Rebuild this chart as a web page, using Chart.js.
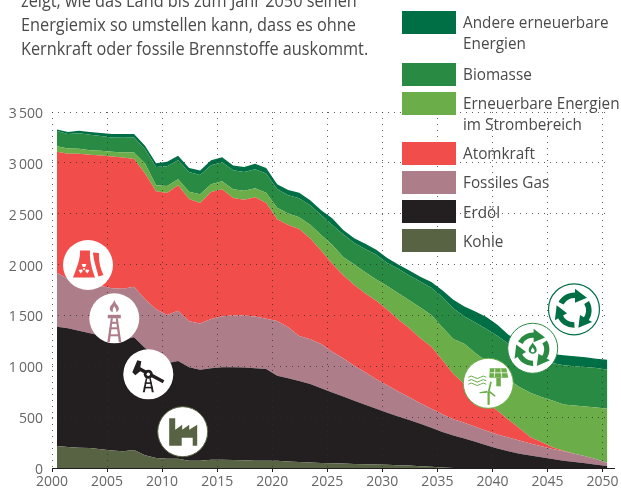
<!DOCTYPE html>
<html lang="de">
<head>
<meta charset="utf-8">
<title>Energiemix bis 2050</title>
<script src="https://cdn.jsdelivr.net/npm/chart.js@4"></script>
<style>
  html, body { margin: 0; padding: 0; background: #fff; }
  #wrap { position: relative; width: 621px; height: 490px; overflow: hidden; font-family: "Open Sans", sans-serif; color: #4a4a4a; }
  #chart { position: absolute; left: 0; top: 0; }
  #icons { position: absolute; left: 0; top: 0; }
  #intro { position: absolute; left: 21px; top: -12px; font-size: 18px; line-height: 24px; white-space: nowrap; transform: scaleX(0.905); transform-origin: left top; }
  .swatch { position: absolute; left: 402px; width: 54px; height: 23px; }
  .label { position: absolute; left: 463px; font-size: 17px; line-height: 21px; white-space: nowrap; transform: scaleX(0.9); transform-origin: left top; }
</style>
</head>
<body>
<div id="wrap">
  <canvas id="chart" width="621" height="490"></canvas>
  <svg id="icons" width="621" height="490" viewBox="0 0 621 490">
    <defs>
      <g id="arrow">
        <path d="M-13 -7 A15 15 0 0 1 3 -14.7" fill="none" stroke-width="5.5"/>
        <path d="M1 -21.5 L13 -12.5 L1 -7.5 Z" stroke="none"/>
      </g>
    </defs>

    <!-- Atomkraft -->
    <g transform="translate(88 265)" fill="#f04d4b">
      <circle r="25" fill="#fff"/>
      <path d="M-8 -14.5 H2 C1.5 -6 3 2 7 12.5 H-15 C-11 2 -7.5 -6 -8 -14.5 Z"/>
      <path d="M5 -12.5 L11 -12 C10.5 -3 12.5 4 15.5 10 L10.5 11.5 C8.5 3 5.5 -4 5 -12.5 Z"/>
      <g fill="#fff" transform="translate(-4 4)">
        <circle r="1.1"/>
        <path d="M-1.2 -2 L-2.4 -5 H2.4 L1.2 -2 Z"/>
        <path d="M-2 0.6 L-5.5 1 L-3.4 4.6 L-1.2 2 Z"/>
        <path d="M2 0.6 L5.5 1 L3.4 4.6 L1.2 2 Z"/>
      </g>
    </g>

    <!-- Fossiles Gas -->
    <g transform="translate(114.3 318.3)" fill="#ad7d8a">
      <circle r="25" fill="#fff"/>
      <path d="M0 -18.5 C1 -14 4.5 -13 4.5 -9.5 C4.5 -7.5 3 -6.5 2 -6 C2.5 -9 1 -10.5 0 -12 C-1 -10.5 -2 -9 -1.5 -6 C-3 -6.5 -4.5 -7.5 -4.5 -9.5 C-4.5 -13 -1 -14 0 -18.5 Z"/>
      <rect x="-6.5" y="-3.5" width="13" height="3.5"/>
      <path d="M-3.5 0 L-7 24 H-4.5 L-1.5 0 Z M3.5 0 L7 24 H4.5 L1.5 0 Z"/>
      <rect x="-4.5" y="9" width="9" height="2"/>
      <rect x="-5" y="16" width="10" height="2"/>
      <rect x="-3" y="3.5" width="6" height="2"/>
    </g>

    <!-- Erdöl -->
    <g transform="translate(148.3 374.3)" fill="#231f20">
      <circle r="25" fill="#fff"/>
      <path d="M-16 -2 L-11 -14 L-7 -13 L-8 -7 L16 6 L14.5 9 L-8 -3 L-13 1 Z"/>
      <circle cy="0" r="4.5"/>
      <circle cy="0" r="1.7" fill="#fff"/>
      <path d="M-2.5 4 L-5.5 18 H-3.5 L-1 4 Z M2.5 4 L5.5 18 H3.5 L1 4 Z"/>
      <rect x="-3.5" y="8" width="7" height="1.6"/>
      <rect x="-4.5" y="12.5" width="9" height="1.6"/>
    </g>

    <!-- Kohle -->
    <g transform="translate(182.7 431.7)" fill="#586343">
      <circle r="25" fill="#fff" stroke="#586343" stroke-width="1"/>
      <path d="M-13.5 -13.5 H-7.5 V-2 L-0.5 -7 V-2 L6.5 -7 V-2 L14.5 -7 V14 H10 V6 H-1 V14 H-13.5 Z"/>
    </g>

    <!-- Erneuerbare Energien im Strombereich -->
    <g transform="translate(488.3 383.3)" fill="#6bad49">
      <circle r="25" fill="#fff" stroke="#6bad49" stroke-width="1"/>
      <path d="M1.5 -15 H18 L20 -5.5 H1 Z"/>
      <path d="M6.5 -14.5 L6 -6 M12.5 -14.5 L13.5 -6 M2 -10.5 H19" stroke="#fff" stroke-width="0.8"/>
      <rect x="8" y="-5.5" width="4.5" height="8.5"/>
      <g fill="none" stroke="#6bad49" stroke-width="1">
        <path d="M-20 -6 q3 -2.5 6 0 t6 0 t6 0"/>
        <path d="M-20 -2.5 q3 -2.5 6 0 t6 0 t6 0"/>
        <path d="M-20 1 q3 -2.5 6 0 t6 0 t6 0"/>
      </g>
      <rect x="-0.8" y="8" width="2.2" height="13.5"/>
      <path d="M-0.4 8 L1.9 -2 L3.4 -1 L1.4 8 Z"/>
      <path d="M-1.1 7.5 L-9 9 L-8.5 10 L-0.6 9.5 Z"/>
      <path d="M1.4 7.5 L7.4 12.5 L6.4 13.5 L0.4 9 Z"/>
    </g>

    <!-- Biomasse -->
    <g transform="translate(532.7 348.3)" fill="#298b43" stroke="#298b43">
      <circle r="25" fill="#fff" stroke-width="1"/>
      <use href="#arrow" transform="translate(0 1) scale(0.95)"/>
      <use href="#arrow" transform="translate(0 1) rotate(120) scale(0.95)"/>
      <use href="#arrow" transform="translate(0 1) rotate(240) scale(0.95)"/>
      <path stroke="none" d="M0 -6 C1 -3 4 -2 4 2 C4 4 2 5.5 0 5.5 C-2 5.5 -4 4 -4 2 C-4 -2 -1 -3 0 -6 Z"/>
      <path stroke="none" fill="#fff" d="M0 -1 C0.5 0.5 1.8 1 1.8 2.5 C1.8 3.5 1 4 0 4 C-1 4 -1.8 3.5 -1.8 2.5 C-1.8 1 -0.5 0.5 0 -1 Z"/>
    </g>

    <!-- Andere erneuerbare Energien -->
    <g transform="translate(574 309.3)" fill="#006f45" stroke="#006f45">
      <circle r="25.5" fill="#fff" stroke-width="1.2"/>
      <use href="#arrow" transform="translate(0 1)"/>
      <use href="#arrow" transform="translate(0 1) rotate(120)"/>
      <use href="#arrow" transform="translate(0 1) rotate(240)"/>
    </g>
  </svg>

  <div id="intro">zeigt, wie das Land bis zum Jahr 2050 seinen<br>Energiemix so umstellen kann, dass es ohne<br>Kernkraft oder fossile Brennstoffe auskommt.</div>

  <div class="swatch" style="top:11px;background:#006f45"></div>
  <div class="label" style="top:11px">Andere erneuerbare<br>Energien</div>
  <div class="swatch" style="top:63px;background:#298b43"></div>
  <div class="label" style="top:63px">Biomasse</div>
  <div class="swatch" style="top:92px;background:#6bad49"></div>
  <div class="label" style="top:92px">Erneuerbare Energien<br>im Strombereich</div>
  <div class="swatch" style="top:142px;background:#f04d4b"></div>
  <div class="label" style="top:142px">Atomkraft</div>
  <div class="swatch" style="top:171px;background:#ad7d8a"></div>
  <div class="label" style="top:171px">Fossiles Gas</div>
  <div class="swatch" style="top:200px;background:#231f20"></div>
  <div class="label" style="top:201px">Erdöl</div>
  <div class="swatch" style="top:229px;background:#586343"></div>
  <div class="label" style="top:230px">Kohle</div>
</div>

<script>
// Energiemix 2000-2050, stacked from the bottom up

const years = [2000,2001,2002,2003,2004,2005,2006,2007,2008,2009,2010,2011,2012,2013,2014,2015,2016,2017,2018,2019,2020,2021,2022,2023,2024,2025,2026,2027,2028,2029,2030,2031,2032,2033,2034,2035,2036,2037,2038,2039,2040,2041,2042,2043,2044,2045,2046,2047,2048,2049,2050];
const yearTicks = [2000,2005,2010,2015,2020,2025,2030,2035,2040,2045,2050];

const coal = [217,207,200,197,184,171,165,178,125,99,92,92,72,72,82,82,79,76,72,72,72,63,59,53,50,47,44,40,37,35,33,28,24,18,12,5,0,0,0,0,0,0,0,0,0,0,0,0,0,0,0];
const oil = [1171,1168,1149,1129,1116,1105,1095,1108,1055,990,938,961,918,895,898,908,911,911,908,902,836,819,797,774,734,695,659,620,584,547,509,478,447,417,383,348,320,290,257,224,191,165,141,122,105,89,72,59,46,33,20];
const gas = [532,485,481,474,490,491,503,497,480,471,475,492,452,453,485,503,510,513,510,493,537,503,441,438,435,402,375,346,320,291,272,246,225,202,187,176,160,155,148,141,139,135,129,118,110,99,93,81,69,52,30];
const nuclear = [1188,1229,1259,1279,1282,1295,1290,1255,1235,1160,1199,1235,1203,1185,1249,1247,1155,1138,1171,1138,1000,1005,1053,991,917,864,817,794,774,772,741,709,677,638,611,533,445,380,330,285,233,174,121,63,40,17,5,0,0,0,0];
const renewablesPower = [56,52,49,46,46,46,49,64,98,60,69,59,72,86,75,79,85,89,89,102,113,113,115,136,154,187,180,200,210,209,234,256,276,303,310,323,343,397,396,399,405,395,406,436,444,458,454,474,489,510,532];
const biomass = [148,142,152,151,145,142,145,148,142,180,194,187,194,190,188,187,188,184,187,188,184,179,187,192,197,195,224,211,228,243,227,241,244,256,270,295,302,268,300,317,333,353,366,375,373,370,386,386,390,389,385];
const otherRenewables = [17,20,26,27,30,33,36,33,33,37,43,43,39,43,49,50,46,49,53,55,48,51,53,48,48,65,42,49,52,49,49,42,48,46,55,68,85,98,108,118,107,88,82,82,81,88,98,98,94,91,98];

// values are plotted mid-year, slightly right of the year tick
const midYear = 0.45;

function points(values) {
  return values.map(function(v, i) { return { x: years[i] + midYear, y: v }; });
}

function layer(label, values, color, fill) {
  return {
    label: label,
    data: points(values),
    backgroundColor: color,
    borderWidth: 0,
    pointRadius: 0,
    tension: 0,
    fill: fill
  };
}

// the axis line runs on a little past the plot
const axisTail = {
  id: 'axisTail',
  afterDraw(chart) {
    const { ctx, chartArea: { right, bottom } } = chart;
    ctx.save();
    ctx.strokeStyle = '#231f20';
    ctx.lineWidth = 1;
    ctx.beginPath();
    ctx.moveTo(right, Math.round(bottom) + 0.5);
    ctx.lineTo(615, Math.round(bottom) + 0.5);
    ctx.stroke();
    ctx.restore();
  }
};

const tickFont = { family: '"Open Sans", sans-serif', size: 14 };
const dots = 'rgba(45,45,45,0.75)';

new Chart(document.getElementById('chart'), {
  type: 'line',
  data: {
    datasets: [
      layer('Kohle', coal, '#586343', 'origin'),
      layer('Erdöl', oil, '#231f20', '-1'),
      layer('Fossiles Gas', gas, '#ad7d8a', '-1'),
      layer('Atomkraft', nuclear, '#f04d4b', '-1'),
      layer('Erneuerbare Energien im Strombereich', renewablesPower, '#6bad49', '-1'),
      layer('Biomasse', biomass, '#298b43', '-1'),
      layer('Andere erneuerbare Energien', otherRenewables, '#006f45', '-1')
    ]
  },
  options: {
    responsive: false,
    animation: false,
    layout: { padding: { top: 112, right: 13.5, left: 0, bottom: 0 } },
    plugins: { legend: { display: false }, title: { display: false }, tooltip: { enabled: false } },
    scales: {
      x: {
        type: 'linear',
        min: 2000,
        max: 2050 + midYear,
        afterFit(scale) { scale.height = 22; scale.paddingLeft = 0; scale.paddingRight = 0; },
        afterBuildTicks(scale) { scale.ticks = yearTicks.map(function(y) { return { value: y }; }); },
        ticks: {
          autoSkip: false,
          maxRotation: 0,
          padding: 2,
          color: '#666',
          font: tickFont,
          callback: function(v) { return String(v); }
        },
        grid: { z: 1, color: dots, lineWidth: 1, tickLength: 4, tickColor: '#231f20', tickBorderDash: [] },
        border: { display: true, color: '#231f20', width: 1, z: 2, dash: [1, 5] }
      },
      y: {
        stacked: true,
        min: 0,
        max: 3500,
        afterFit(scale) { scale.width = 52; },
        ticks: {
          stepSize: 500,
          padding: 9,
          labelOffset: 2,
          color: '#666',
          font: tickFont,
          callback: function(v) { return String(v).replace(/(\d)(\d{3})$/, '$1\u2009$2'); }
        },
        grid: { z: 1, color: dots, lineWidth: 1, drawTicks: false },
        border: { display: false, dash: [1, 5] }
      }
    }
  },
  plugins: [axisTail]
});
</script>
</body>
</html>
